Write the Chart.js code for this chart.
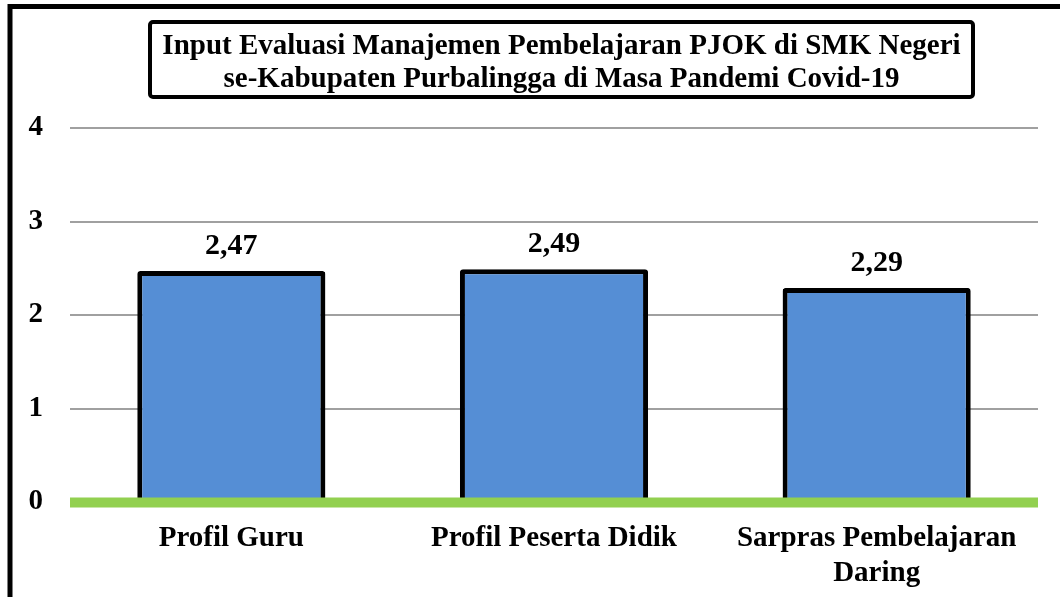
<!DOCTYPE html>
<html>
<head>
<meta charset="utf-8">
<script src="https://cdn.jsdelivr.net/npm/chart.js@4/dist/chart.umd.min.js"></script>
<style>
  body { margin: 0; background: #fff; }
  #wadah { width: 1060px; height: 597px; }
</style>
</head>
<body>
<div id="wadah"><canvas id="grafik" width="1060" height="597"></canvas></div>
<script>
// Data grafik
const judul = ['Input Evaluasi Manajemen Pembelajaran PJOK di SMK Negeri', 'se-Kabupaten Purbalingga di Masa Pandemi Covid-19'];
const kategori = ['Profil Guru', 'Profil Peserta Didik', ['Sarpras Pembelajaran', 'Daring']];
const nilai = [2.47, 2.49, 2.29];
const batasY = [0, 4];

const hurufSerif = '"Liberation Serif", "Times New Roman", serif';

// Bingkai luar + kotak judul
const bingkaiJudul = {
    id: 'bingkaiJudul',
    beforeDraw(chart) {
        const ctx = chart.ctx;
        ctx.save();
        ctx.strokeStyle = '#000';
        ctx.lineWidth = 5;
        ctx.beginPath();
        ctx.moveTo(10, 597);
        ctx.lineTo(10, 6.5);
        ctx.lineTo(1060, 6.5);
        ctx.stroke();
        ctx.restore();
    },
    afterDraw(chart) {
        const ctx = chart.ctx;
        ctx.save();
        ctx.strokeStyle = '#000';
        ctx.lineWidth = 4;
        ctx.beginPath();
        ctx.roundRect(150, 22, 823, 75, 3);
        ctx.stroke();
        ctx.fillStyle = '#000';
        ctx.font = 'bold 29px ' + hurufSerif;
        ctx.textAlign = 'center';
        ctx.textBaseline = 'middle';
        judul.forEach((baris, i) => ctx.fillText(baris, 561.5, 47 + i * 33));
        ctx.restore();
    }
};

// Garis hijau di nilai 0 + label nilai di atas batang
const labelNilai = {
    id: 'labelNilai',
    afterDatasetsDraw(chart) {
        const ctx = chart.ctx;
        const area = chart.chartArea;
        const y0 = chart.scales.y.getPixelForValue(0);
        ctx.save();
        ctx.strokeStyle = '#92D050';
        ctx.lineWidth = 10;
        ctx.beginPath();
        ctx.moveTo(area.left, y0 + 0.5);
        ctx.lineTo(area.right, y0 + 0.5);
        ctx.stroke();

        const meta = chart.getDatasetMeta(0);
        ctx.fillStyle = '#000';
        ctx.font = 'bold 30px ' + hurufSerif;
        ctx.textAlign = 'center';
        ctx.textBaseline = 'alphabetic';
        meta.data.forEach((bar, i) => {
            const teks = nilai[i].toFixed(2).replace('.', ',');
            ctx.fillText(teks, bar.x, bar.y - 17);
        });
        ctx.restore();
    }
};

new Chart(document.getElementById('grafik'), {
    type: 'bar',
    data: {
        labels: kategori,
        datasets: [{
            data: nilai,
            backgroundColor: '#558ED5',
            borderColor: '#000',
            borderWidth: 5,
            borderSkipped: 'bottom',
            borderRadius: 3,
            categoryPercentage: 1,
            barPercentage: 0.583
        }]
    },
    options: {
        responsive: false,
        animation: false,
        layout: { padding: { top: 128, left: 0, right: 22, bottom: 0 } },
        plugins: {
            legend: { display: false },
            tooltip: { enabled: false }
        },
        scales: {
            x: {
                grid: { display: false, drawTicks: false },
                border: { display: false },
                ticks: {
                    color: '#000',
                    padding: 19,
                    font: { family: hurufSerif, size: 29, weight: 'bold', lineHeight: 1.2 }
                },
                afterFit(scale) { scale.height = 95; }
            },
            y: {
                min: batasY[0],
                max: batasY[1],
                grid: { color: '#A0A0A0', lineWidth: 2, drawTicks: false },
                border: { display: false },
                ticks: {
                    stepSize: 1,
                    color: '#000',
                    padding: 27,
                    font: { family: hurufSerif, size: 29, weight: 'bold' }
                },
                afterFit(scale) { scale.width = 70; }
            }
        }
    },
    plugins: [bingkaiJudul, labelNilai]
});
</script>
</body>
</html>
